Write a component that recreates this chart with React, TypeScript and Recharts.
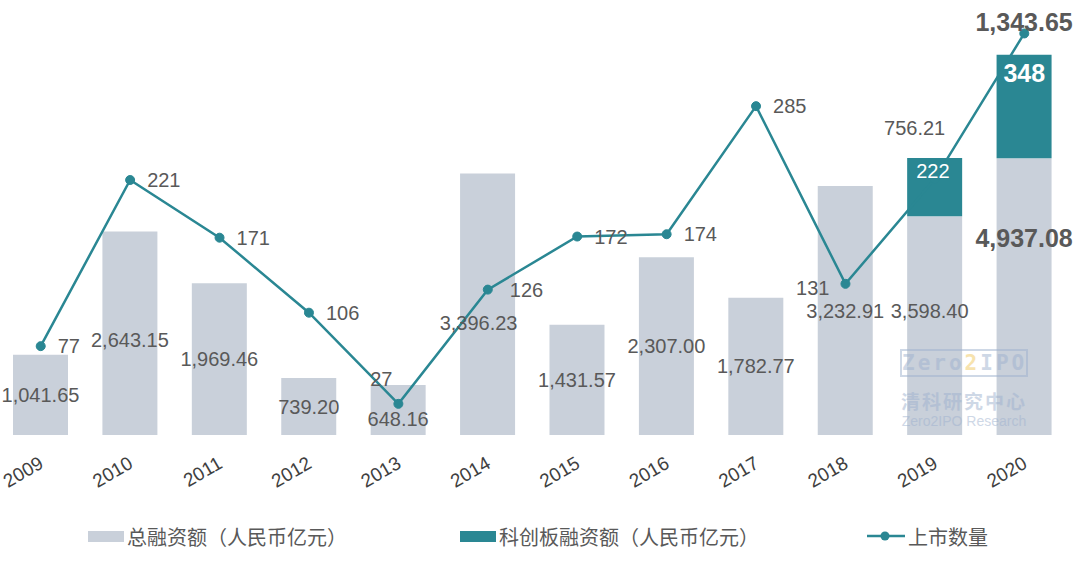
import React from "react";
import { ComposedChart, Bar, Line, XAxis, YAxis, LabelList } from "recharts";

const years = ["2009", "2010", "2011", "2012", "2013", "2014", "2015", "2016", "2017", "2018", "2019", "2020"];
// 总融资额（人民币亿元）
const totalFinancing = [1041.65, 2643.15, 1969.46, 739.2, 648.16, 3396.23, 1431.57, 2307.0, 1782.77, 3232.91, 3598.4, 4937.08];
// 科创板融资额（人民币亿元）
const starFinancing = [0, 0, 0, 0, 0, 0, 0, 0, 0, 0, 756.21, 1343.65];
// 上市数量
const listings = [77, 221, 171, 106, 27, 126, 172, 174, 285, 131, 222, 348];

const data = years.map((year, i) => ({
  year,
  base: totalFinancing[i] - starFinancing[i],
  star: starFinancing[i] > 0 ? starFinancing[i] : null,
  total: totalFinancing[i],
  listings: listings[i],
}));

const GRAY = "#c9d0da";
const TEAL = "#2a8793";
const TEXT = "#595959";
const FONT = "'Liberation Sans', Arial, sans-serif";

const fmt = (v: number) =>
  v.toLocaleString("en-US", { minimumFractionDigits: 2, maximumFractionDigits: 2 });

const lastYear = years.length - 1;

// nudges for the total labels, like the hand-placed labels in the source
const totalNudge: Record<number, number> = { 1: 7, 4: 9, 5: 19, 10: -15, 11: -59 };

const TotalLabel = (props: any) => {
  const { x, y, width, height, value } = props;
  const index = totalFinancing.indexOf(value);
  const bold = index === lastYear;
  const cy = y + height / 2 + (totalNudge[index] || 0);
  const cx = x + width / 2 + (index === 5 ? -9 : index === 10 ? -5 : 0);
  return (
    <text
      x={cx}
      y={cy}
      textAnchor="middle"
      dominantBaseline="central"
      fill={TEXT}
      fontSize={bold ? 25 : 20}
      fontWeight={bold ? "bold" : "normal"}
      fontFamily={FONT}
    >
      {fmt(value)}
    </text>
  );
};

const StarLabel = (props: any) => {
  const { x, y, width, value } = props;
  if (value == null) return null;
  const bold = starFinancing.indexOf(value) === lastYear;
  return (
    <text
      x={x + width / 2 + (bold ? 0 : -20)}
      y={y - (bold ? 33 : 30)}
      textAnchor="middle"
      dominantBaseline="central"
      fill={TEXT}
      fontSize={bold ? 25 : 20}
      fontWeight={bold ? "bold" : "normal"}
      fontFamily={FONT}
    >
      {fmt(value)}
    </text>
  );
};

const ListingLabel = (props: any) => {
  const { x, y, index, value } = props;
  let dx = 17;
  let dy = 0;
  let anchor: "start" | "end" | "middle" = "start";
  let fill = TEXT;
  let weight = "normal";
  let size = 20;
  if (index === 4) {
    anchor = "end";
    dx = -6;
    dy = -25;
  } else if (index === 5) {
    dx = 22;
  } else if (index === 9) {
    anchor = "end";
    dx = -16;
    dy = 4;
  } else if (index === 10) {
    anchor = "middle";
    dx = -2;
    dy = -8;
    fill = "#ffffff";
  } else if (index === 11) {
    anchor = "middle";
    dx = 0;
    dy = 40;
    fill = "#ffffff";
    weight = "bold";
    size = 25;
  }
  return (
    <text
      x={x + dx}
      y={y + dy}
      textAnchor={anchor}
      dominantBaseline="central"
      fill={fill}
      fontSize={size}
      fontWeight={weight}
      fontFamily={FONT}
    >
      {value}
    </text>
  );
};

const YearTick = (props: any) => {
  const { x, y, payload } = props;
  return (
    <g transform={`translate(${x + 4},${y + 24})`}>
      <text
        textAnchor="end"
        transform="rotate(-30)"
        fill="#404040"
        fontSize={19}
        fontFamily={FONT}
      >
        {payload.value}
      </text>
    </g>
  );
};

const legendItems = [
  { label: "总融资额（人民币亿元）", color: GRAY, kind: "box", left: 88 },
  { label: "科创板融资额（人民币亿元）", color: TEAL, kind: "box", left: 460 },
  { label: "上市数量", color: TEAL, kind: "line", left: 867 },
];

const App = () => {
  return (
    <div style={{ position: "absolute", left: 0, top: 0, width: 1080, height: 574, background: "#fff" }}>
      <div style={{ position: "absolute", left: -4, top: 0 }}>
        <ComposedChart
          width={1084}
          height={574}
          data={data}
          margin={{ top: 30, right: 11, left: 0, bottom: 79 }}
          barCategoryGap="19%"
        >
          <XAxis
            dataKey="year"
            axisLine={false}
            tickLine={false}
            height={60}
            interval={0}
            tick={<YearTick />}
          />
          <YAxis yAxisId="left" hide domain={[0, 5260]} />
          <YAxis yAxisId="right" hide orientation="right" domain={[0, 351]} />
          <Bar yAxisId="left" dataKey="base" stackId="a" fill={GRAY} isAnimationActive={false}>
            <LabelList dataKey="total" content={<TotalLabel />} />
          </Bar>
          <Bar yAxisId="left" dataKey="star" stackId="a" fill={TEAL} isAnimationActive={false}>
            <LabelList dataKey="star" content={<StarLabel />} />
          </Bar>
          <Line
            yAxisId="right"
            dataKey="listings"
            stroke={TEAL}
            strokeWidth={2.5}
            dot={{ r: 4.5, fill: TEAL, stroke: TEAL, strokeWidth: 1 }}
            isAnimationActive={false}
          >
            <LabelList dataKey="listings" content={<ListingLabel />} />
          </Line>
        </ComposedChart>
      </div>

      {/* watermark */}
      <div
        style={{
          position: "absolute",
          left: 900,
          top: 349,
          width: 128,
          fontFamily: FONT,
          color: "#9fb2cf",
          opacity: 0.5,
          textAlign: "center",
          pointerEvents: "none",
        }}
      >
        <div
          style={{
            border: "2px solid #9fb2cf",
            fontWeight: "bold",
            fontSize: 21,
            lineHeight: "24px",
            letterSpacing: 3,
            fontFamily: "'DejaVu Sans Mono', monospace",
          }}
        >
          Zero<span style={{ color: "#f0c860" }}>2</span>IPO
        </div>
        <div
          style={{
            fontSize: 19,
            fontWeight: "bold",
            marginTop: 14,
            fontFamily: "'Noto Sans CJK SC'",
            letterSpacing: 2,
            lineHeight: "19px",
          }}
        >
          清科研究中心
        </div>
        <div style={{ fontSize: 14, lineHeight: "15px", marginTop: 4 }}>Zero2IPO Research</div>
      </div>

      {/* legend */}
      {legendItems.map((item) => (
        <div
          key={item.label}
          style={{
            position: "absolute",
            left: item.left,
            top: 522,
            height: 28,
            display: "flex",
            alignItems: "center",
            fontFamily: "'Noto Sans CJK SC', sans-serif",
            fontSize: 20,
            color: TEXT,
          }}
        >
          {item.kind === "box" ? (
            <span style={{ display: "inline-block", width: 36, height: 11, background: item.color }} />
          ) : (
            <svg width={38} height={14}>
              <line x1={0} y1={7} x2={38} y2={7} stroke={item.color} strokeWidth={2.5} />
              <circle cx={18} cy={7} r={4.5} fill={item.color} />
            </svg>
          )}
          <span style={{ marginLeft: 3 }}>{item.label}</span>
        </div>
      ))}
    </div>
  );
};

export default App;
